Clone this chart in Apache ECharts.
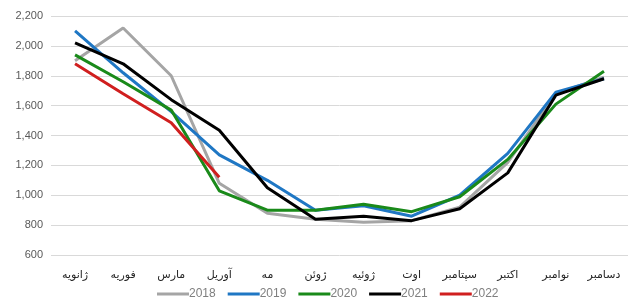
<!DOCTYPE html>
<html>
<head>
<meta charset="utf-8">
<script src="https://cdn.jsdelivr.net/npm/echarts@6/dist/echarts.min.js"></script>
<style>
  html, body { margin: 0; padding: 0; background: #fff; }
  #chart { width: 635px; height: 304px; }
</style>
</head>
<body>
<div id="chart"></div>
<script>
var months = ['ژانویه', 'فوریه', 'مارس', 'آوریل', 'مه', 'ژوئن', 'ژوئیه', 'اوت', 'سپتامبر', 'اکتبر', 'نوامبر', 'دسامبر']
var y2018 = [1900, 2120, 1800, 1080, 880, 840, 820, 830, 920, 1220, 1680, 1790]
var y2019 = [2100, 1820, 1560, 1270, 1100, 900, 930, 860, 1000, 1280, 1690, 1780]
var y2020 = [1940, 1760, 1570, 1030, 900, 900, 940, 890, 990, 1240, 1610, 1830]
var y2021 = [2020, 1880, 1640, 1435, 1050, 840, 860, 830, 910, 1150, 1670, 1780]
var y2022 = [1880, 1680, 1485, 1120]

var chartDom = document.getElementById('chart')
var myChart = echarts.init(chartDom)

function line(name, data, color) {
  return {
    name: name,
    type: 'line',
    data: data,
    symbol: 'none',
    lineStyle: { color: color, width: 3 },
    itemStyle: { color: color }
  }
}

var option = {
  animation: false,
  grid: { left: 51, right: 7, top: 16, bottom: 49 },
  legend: {
    bottom: -1,
    left: 152,
    itemWidth: 32,
    itemHeight: 3,
    itemGap: 12,
    icon: 'rect',
    textStyle: {
      color: '#7f7f7f',
      fontSize: 12,
      fontFamily: 'Liberation Sans',
      padding: [0, 0, 0, -5]
    },
    data: ['2018', '2019', '2020', '2021', '2022']
  },
  xAxis: {
    type: 'category',
    data: months,
    axisLine: { show: false },
    axisTick: { show: false },
    axisLabel: { color: '#262626', fontSize: 11, fontFamily: 'DejaVu Sans', margin: 15 }
  },
  yAxis: {
    type: 'value',
    min: 600,
    max: 2200,
    interval: 200,
    axisLabel: {
      color: '#595959',
      fontSize: 11,
      fontFamily: 'Liberation Sans',
      formatter: function (v) { return v.toLocaleString('en-US') }
    },
    splitLine: { lineStyle: { color: '#d9d9d9', width: 1 } }
  },
  series: [
    line('2018', y2018, '#a5a5a5'),
    line('2019', y2019, '#1f77c4'),
    line('2020', y2020, '#1a8a1a'),
    line('2021', y2021, '#000000'),
    line('2022', y2022, '#d01f1f')
  ]
}

option && myChart.setOption(option)
</script>
</body>
</html>
